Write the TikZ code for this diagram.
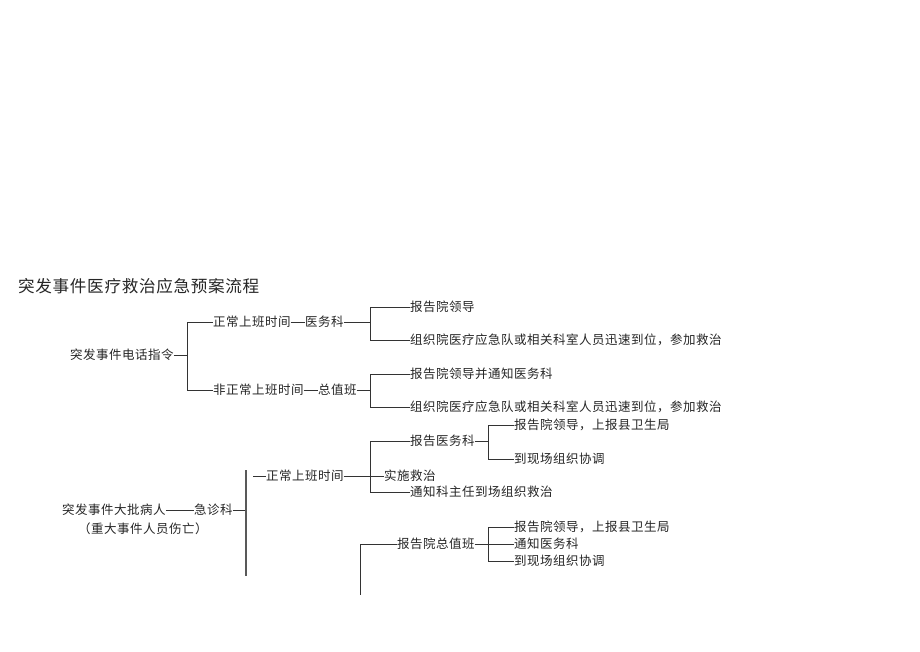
\documentclass[tikz,border=0pt]{standalone}
\usepackage{fontspec}
\newfontfamily\cjk{Noto Sans CJK SC}[LetterSpace=4]
\begin{document}
\begin{tikzpicture}[x=1pt,y=-1pt,
  txt/.style={anchor=west,inner sep=0pt,outer sep=0pt,text=black!85,font=\cjk\fontsize{12.5}{14}\selectfont},
  ttl/.style={anchor=west,inner sep=0pt,text=black!85,font=\cjk\fontsize{16.6}{19}\selectfont},
  ln/.style={draw=black!80,line width=0.8pt}]
\useasboundingbox[fill=white] (0,0) rectangle (920,651);
% title
\node[ttl] (title) at (18,286) {突发事件医疗救治应急预案流程};
% ---------- tree 1 ----------
\node[txt] (t1) at (70,355) {突发事件电话指令};
\coordinate (v1t) at (187,322);
\coordinate (v1m) at (187,355);
\coordinate (v1b) at (187,390);
\draw[ln] (t1.east) -- (v1m);
\draw[ln] (v1t) -- (v1b);
\node[txt] (a1) at (213,322) {正常上班时间};
\node[txt] (a1k) at (305,322) {医务科};
\node[txt] (a2) at (213,390) {非正常上班时间};
\node[txt] (a2k) at (318,390) {总值班};
\draw[ln] (v1t) -- (a1.west);
\draw[ln] (a1.east) -- (a1k.west);
\draw[ln] (v1b) -- (a2.west);
\draw[ln] (a2.east) -- (a2k.west);
\coordinate (p1t) at (370,307);
\coordinate (p1m) at (370,322);
\coordinate (p1b) at (370,340);
\coordinate (p2t) at (370,374);
\coordinate (p2m) at (370,390);
\coordinate (p2b) at (370,407);
\draw[ln] (a1k.east) -- (p1m);
\draw[ln] (a2k.east) -- (p2m);
\draw[ln] (p1t) -- (p1b);
\draw[ln] (p2t) -- (p2b);
\node[txt] (b1) at (410,307) {报告院领导};
\node[txt] (b2) at (410,340) {组织院医疗应急队或相关科室人员迅速到位，参加救治};
\node[txt] (b3) at (410,374) {报告院领导并通知医务科};
\node[txt] (b4) at (410,407) {组织院医疗应急队或相关科室人员迅速到位，参加救治};
\draw[ln] (p1t) -- (b1.west);
\draw[ln] (p1b) -- (b2.west);
\draw[ln] (p2t) -- (b3.west);
\draw[ln] (p2b) -- (b4.west);
% ---------- tree 2 ----------
\node[txt] (c1) at (62,510) {突发事件大批病人};
\node[txt] (c1k) at (194,510) {急诊科};
\node[txt] (c2) at (78,529) {（重大事件人员伤亡）};
\coordinate (v2t) at (246,470);
\coordinate (v2m) at (246,510);
\coordinate (v2b) at (246,576);
\draw[ln] (c1.east) -- (c1k.west);
\draw[ln] (c1k.east) -- (v2m);
\draw[ln,draw=black!65,line width=1.1pt] (v2t) -- (v2b);
\coordinate (d0) at (253,476);
\node[txt] (d1) at (266,476) {正常上班时间};
\draw[ln] (d0) -- (d1.west);
\coordinate (q1t) at (370,441);
\coordinate (q1b) at (370,492);
\draw[ln] (q1t) -- (q1b);
\node[txt] (e1) at (410,441) {报告医务科};
\node[txt] (e2) at (384,476) {实施救治};
\node[txt] (e3) at (410,492) {通知科主任到场组织救治};
\draw[ln] (d1.east) -- (e2.west);
\draw[ln] (q1t) -- (e1.west);
\draw[ln] (q1b) -- (e3.west);
\coordinate (r1t) at (488,425);
\coordinate (r1m) at (488,441);
\coordinate (r1b) at (488,459);
\draw[ln] (e1.east) -- (r1m);
\draw[ln] (r1t) -- (r1b);
\node[txt] (f1) at (514,425) {报告院领导，上报县卫生局};
\node[txt] (f2) at (514,459) {到现场组织协调};
\draw[ln] (r1t) -- (f1.west);
\draw[ln] (r1b) -- (f2.west);
\coordinate (s1t) at (360,544);
\coordinate (s1b) at (360,595);
\draw[ln] (s1t) -- (s1b);
\node[txt] (g1) at (397,544) {报告院总值班};
\draw[ln] (s1t) -- (g1.west);
\coordinate (r2t) at (488,527);
\coordinate (r2b) at (488,561);
\draw[ln] (r2t) -- (r2b);
\node[txt] (h1) at (514,527) {报告院领导，上报县卫生局};
\node[txt] (h2) at (514,544) {通知医务科};
\node[txt] (h3) at (514,561) {到现场组织协调};
\draw[ln] (g1.east) -- (h2.west);
\draw[ln] (r2t) -- (h1.west);
\draw[ln] (r2b) -- (h3.west);
\end{tikzpicture}
\end{document}
